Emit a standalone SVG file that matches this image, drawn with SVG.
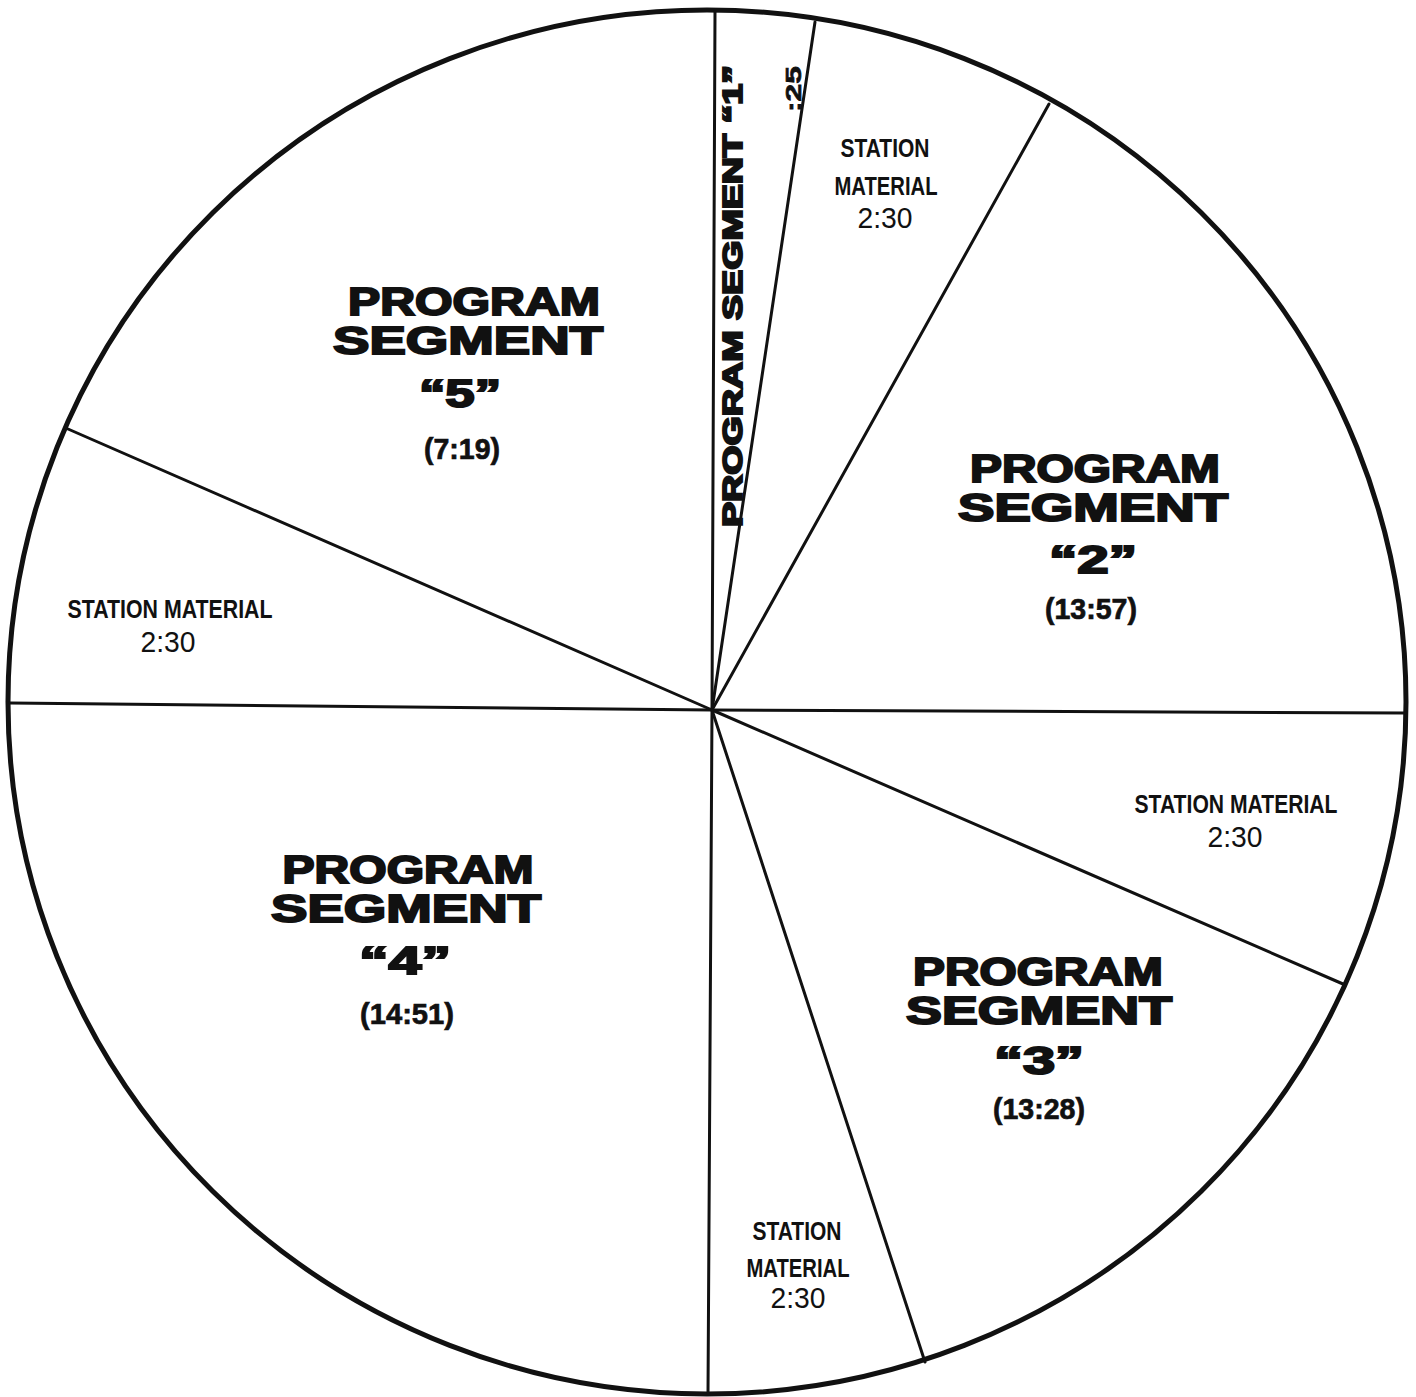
<svg xmlns="http://www.w3.org/2000/svg" width="1416" height="1397" viewBox="0 0 1416 1397">
<style>
.heavy{font-family:"Liberation Sans",Arial,sans-serif;font-weight:bold;fill:#111;stroke:#111;stroke-width:2;text-anchor:middle;}
.cond{font-family:"Liberation Sans",Arial,sans-serif;font-weight:bold;fill:#111;text-anchor:middle;}
.time{font-family:"Liberation Sans",Arial,sans-serif;font-weight:bold;fill:#111;stroke:#111;stroke-width:0.7;text-anchor:middle;}
.reg{font-family:"Liberation Sans",Arial,sans-serif;font-weight:normal;fill:#111;text-anchor:middle;}
.spoke{stroke:#111;stroke-width:3;stroke-linecap:round;fill:none;}
</style>
<rect width="1416" height="1397" fill="#ffffff"/>
<ellipse id="pie-outline" cx="707" cy="702" rx="699" ry="692" fill="#ffffff" stroke="#111" stroke-width="5"/>
<g id="connectors">
<line class="spoke" x1="712" y1="710" x2="715" y2="12"/>
<line class="spoke" x1="712" y1="710" x2="815" y2="22"/>
<line class="spoke" x1="712" y1="710" x2="1049" y2="104"/>
<line class="spoke" x1="712" y1="710" x2="1405" y2="713"/>
<line class="spoke" x1="712" y1="710" x2="1343" y2="984"/>
<line class="spoke" x1="712" y1="710" x2="925" y2="1362"/>
<line class="spoke" x1="712" y1="710" x2="708" y2="1393"/>
<line class="spoke" x1="712" y1="710" x2="10" y2="703"/>
<line class="spoke" x1="712" y1="710" x2="68" y2="429"/>
</g>
<g id="segment-1">
<text class="heavy" font-size="28" transform="translate(742,296) rotate(-90)" textLength="462" lengthAdjust="spacingAndGlyphs">PROGRAM SEGMENT “1”</text>
<text class="time" font-size="22" transform="translate(801,89) rotate(-90)" textLength="46" lengthAdjust="spacingAndGlyphs">:25</text>
</g>
<g id="station-1">
<text class="cond" font-size="25" x="885" y="157" textLength="89" lengthAdjust="spacingAndGlyphs">STATION</text>
<text class="cond" font-size="25" x="886" y="195" textLength="103" lengthAdjust="spacingAndGlyphs">MATERIAL</text>
<text class="reg" font-size="29" x="885" y="228" textLength="55" lengthAdjust="spacingAndGlyphs">2:30</text>
</g>
<g id="segment-2">
<text class="heavy" font-size="39" x="1095" y="482" textLength="250" lengthAdjust="spacingAndGlyphs">PROGRAM</text>
<text class="heavy" font-size="39" x="1093" y="521" textLength="270" lengthAdjust="spacingAndGlyphs">SEGMENT</text>
<text class="heavy" font-size="39" x="1093" y="573" textLength="88" lengthAdjust="spacingAndGlyphs">“2”</text>
<text class="time" font-size="30" x="1091" y="619" textLength="92" lengthAdjust="spacingAndGlyphs">(13:57)</text>
</g>
<g id="station-2">
<text class="cond" font-size="25" x="1236" y="813" textLength="203" lengthAdjust="spacingAndGlyphs">STATION MATERIAL</text>
<text class="reg" font-size="29" x="1235" y="847" textLength="55" lengthAdjust="spacingAndGlyphs">2:30</text>
</g>
<g id="segment-3">
<text class="heavy" font-size="39" x="1038" y="985" textLength="250" lengthAdjust="spacingAndGlyphs">PROGRAM</text>
<text class="heavy" font-size="39" x="1039" y="1024" textLength="266" lengthAdjust="spacingAndGlyphs">SEGMENT</text>
<text class="heavy" font-size="39" x="1039" y="1074" textLength="90" lengthAdjust="spacingAndGlyphs">“3”</text>
<text class="time" font-size="30" x="1039" y="1119" textLength="92" lengthAdjust="spacingAndGlyphs">(13:28)</text>
</g>
<g id="station-3">
<text class="cond" font-size="25" x="797" y="1240" textLength="89" lengthAdjust="spacingAndGlyphs">STATION</text>
<text class="cond" font-size="25" x="798" y="1277" textLength="103" lengthAdjust="spacingAndGlyphs">MATERIAL</text>
<text class="reg" font-size="29" x="798" y="1308" textLength="55" lengthAdjust="spacingAndGlyphs">2:30</text>
</g>
<g id="segment-4">
<text class="heavy" font-size="39" x="408" y="883" textLength="251" lengthAdjust="spacingAndGlyphs">PROGRAM</text>
<text class="heavy" font-size="39" x="406" y="922" textLength="270" lengthAdjust="spacingAndGlyphs">SEGMENT</text>
<text class="heavy" font-size="39" x="405" y="974" textLength="92" lengthAdjust="spacingAndGlyphs">“4”</text>
<text class="time" font-size="30" x="407" y="1024" textLength="94" lengthAdjust="spacingAndGlyphs">(14:51)</text>
</g>
<g id="station-4">
<text class="cond" font-size="25" x="170" y="618" textLength="205" lengthAdjust="spacingAndGlyphs">STATION MATERIAL</text>
<text class="reg" font-size="29" x="168" y="652" textLength="55" lengthAdjust="spacingAndGlyphs">2:30</text>
</g>
<g id="segment-5">
<text class="heavy" font-size="39" x="474" y="315" textLength="252" lengthAdjust="spacingAndGlyphs">PROGRAM</text>
<text class="heavy" font-size="39" x="468" y="354" textLength="270" lengthAdjust="spacingAndGlyphs">SEGMENT</text>
<text class="heavy" font-size="39" x="460" y="407" textLength="82" lengthAdjust="spacingAndGlyphs">“5”</text>
<text class="time" font-size="30" x="462" y="459" textLength="76" lengthAdjust="spacingAndGlyphs">(7:19)</text>
</g>
</svg>
